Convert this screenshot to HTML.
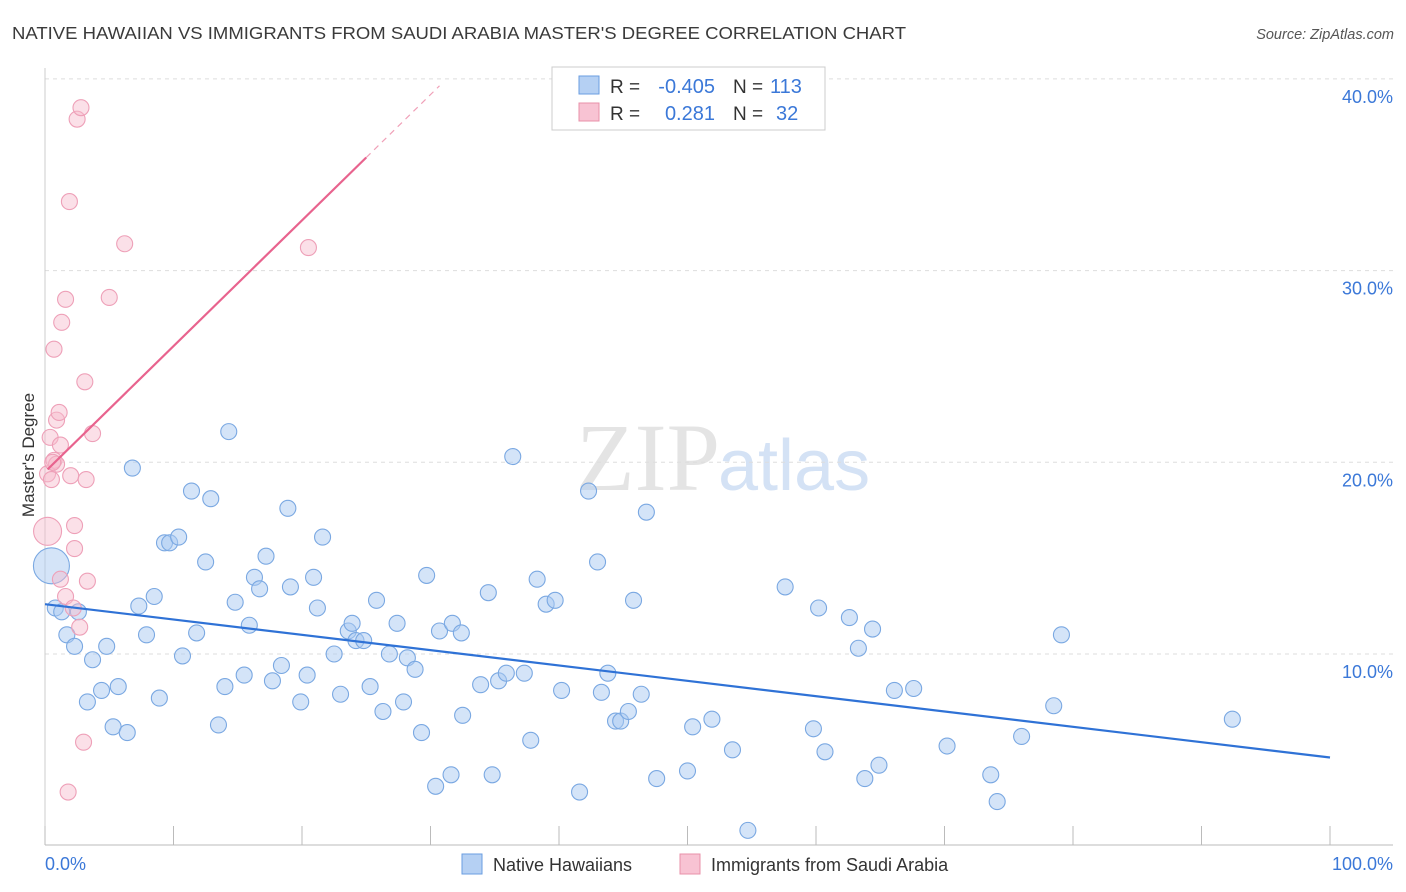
<!DOCTYPE html>
<html><head><meta charset="utf-8"><style>
body{margin:0;background:#fff;font-family:"Liberation Sans",sans-serif;}
svg{display:block}
</style></head><body>
<svg id="chart" width="1406" height="892">
<text x="12" y="39" font-size="17.5" fill="#3a3a3a" textLength="894" lengthAdjust="spacingAndGlyphs">NATIVE HAWAIIAN VS IMMIGRANTS FROM SAUDI ARABIA MASTER'S DEGREE CORRELATION CHART</text>
<text x="1394" y="39" font-size="14.5" fill="#555" font-style="italic" text-anchor="end">Source: ZipAtlas.com</text>
<text x="720" y="490" font-size="96" fill="#e4e4e4" text-anchor="end" font-family="Liberation Serif">ZIP</text>
<text x="718" y="490" font-size="72" fill="#d4e2f5">atlas</text>
<text transform="translate(34,455) rotate(-90)" font-size="17" fill="#333" text-anchor="middle">Master's Degree</text>
<g id="grid"></g><g id="marks"></g>
<g>
<rect x="552" y="67" width="273" height="63" fill="#fff" stroke="#ccc"/>
<rect x="579" y="76" width="20" height="18" fill="#b5d0f3" stroke="#6a9ee0"/>
<rect x="579" y="103" width="20" height="18" fill="#f8c3d3" stroke="#e890aa"/>
<text x="610" y="93" font-size="19" fill="#333">R =</text>
<text x="715" y="93" font-size="20" fill="#3b78d8" text-anchor="end">-0.405</text>
<text x="733" y="93" font-size="19" fill="#333">N =</text>
<text x="770" y="93" font-size="20" fill="#3b78d8">113</text>
<text x="610" y="120" font-size="19" fill="#333">R =</text>
<text x="715" y="120" font-size="20" fill="#3b78d8" text-anchor="end">0.281</text>
<text x="733" y="120" font-size="19" fill="#333">N =</text>
<text x="776" y="120" font-size="20" fill="#3b78d8">32</text>
</g>
<g>
<rect x="462" y="854" width="20" height="20" fill="#b5d0f3" stroke="#6a9ee0"/>
<text x="493" y="871" font-size="18" fill="#333">Native Hawaiians</text>
<rect x="680" y="854" width="20" height="20" fill="#f8c3d3" stroke="#e890aa"/>
<text x="711" y="871" font-size="18" fill="#333">Immigrants from Saudi Arabia</text>
</g>
<text x="45" y="870" font-size="18" fill="#3b78d8">0.0%</text>
<text x="1393" y="870" font-size="18" fill="#3b78d8" text-anchor="end">100.0%</text>
</svg>
<script>
const blueX=[0.5,0.8,1.3,2.6,1.7,2.3,3.7,4.8,4.4,3.3,5.7,5.3,6.4,6.8,7.3,7.9,8.5,8.9,9.3,9.7,10.4,10.7,11.4,11.8,12.5,12.9,13.5,14.0,14.3,14.8,15.5,15.9,16.3,16.7,17.2,17.7,18.4,18.9,19.1,19.9,20.4,20.9,21.2,21.6,22.5,23.0,23.6,23.9,24.2,24.8,25.3,25.8,26.3,26.8,27.4,27.9,28.2,28.8,29.3,29.7,30.4,30.7,31.6,31.7,32.4,32.5,33.9,34.5,34.8,35.3,35.9,36.4,37.3,37.8,38.3,39.0,39.7,40.2,41.6,42.3,43.0,43.3,43.8,44.4,44.8,45.4,45.8,46.4,46.8,47.6,50.0,50.4,51.9,53.5,54.7,57.6,59.8,60.2,60.7,62.6,63.3,63.8,64.4,64.9,66.1,67.6,70.2,73.6,74.1,76.0,78.5,79.1,92.4];
const blueY=[14.6,12.4,12.2,12.2,11.0,10.4,9.7,10.4,8.1,7.5,8.3,6.2,5.9,19.7,12.5,11.0,13.0,7.7,15.8,15.8,16.1,9.9,18.5,11.1,14.8,18.1,6.3,8.3,21.6,12.7,8.9,11.5,14.0,13.4,15.1,8.6,9.4,17.6,13.5,7.5,8.9,14.0,12.4,16.1,10.0,7.9,11.2,11.6,10.7,10.7,8.3,12.8,7.0,10.0,11.6,7.5,9.8,9.2,5.9,14.1,3.1,11.2,3.7,11.6,11.1,6.8,8.4,13.2,3.7,8.6,9.0,20.3,9.0,5.5,13.9,12.6,12.8,8.1,2.8,18.5,14.8,8.0,9.0,6.5,6.5,7.0,12.8,7.9,17.4,3.5,3.9,6.2,6.6,5.0,0.8,13.5,6.1,12.4,4.9,11.9,10.3,3.5,11.3,4.2,8.1,8.2,5.2,3.7,2.3,5.7,7.3,11.0,6.6];
const pinkX=[0.2,0.2,0.5,0.7,0.4,0.9,1.1,1.2,0.9,0.7,1.3,1.6,1.9,2.5,2.8,2.0,2.3,2.3,1.2,3.3,1.6,2.2,2.7,3.2,3.1,3.7,5.0,6.2,3.0,1.8,20.5,0.6];
const pinkY=[16.4,19.4,19.1,20.1,21.3,22.2,22.6,20.9,19.9,25.9,27.3,28.5,33.6,37.9,38.5,19.3,16.7,15.5,13.9,13.8,13.0,12.4,11.4,19.1,24.2,21.5,28.6,31.4,5.4,2.8,31.2,20.0];
const yTicks=[10,20,30,40];
const yTickLabels=["10.0%","20.0%","30.0%","40.0%"];
const xTicks=[0,10,20,30,40,50,60,70,80,90,100];
const blueFit=[12.6,4.6];
const pinkFit=[19.5,0.656];
const sx=v=>45+v*12.85, sy=v=>845.7-v*19.17;
const NS="http://www.w3.org/2000/svg";
const grid=document.getElementById('grid'), marks=document.getElementById('marks');
function mk(p,tag,a){const e=document.createElementNS(NS,tag);for(const k in a)e.setAttribute(k,a[k]);p.appendChild(e);return e;}
yTicks.forEach((t,i)=>{
 const l=mk(grid,'line',{x1:45,x2:1393,y1:sy(t),y2:sy(t),stroke:'#ddd','stroke-dasharray':'4,4'});
 
 
 const tx=mk(grid,'text',{x:1393,y:sy(t)+24,'font-size':18,fill:'#3b78d8','text-anchor':'end'});
 tx.textContent=yTickLabels[i];
 
 
});
const ax=mk(grid,'line',{x1:45,x2:1393,y1:845,y2:845,stroke:'#bbb'});


const ay=mk(grid,'line',{x1:45,x2:45,y1:68,y2:845,stroke:'#ccc'});


xTicks.forEach(t=>{
 const l=mk(grid,'line',{x1:sx(t),x2:sx(t),y1:826,y2:845,stroke:'#bbb'});
 
 
});
blueX.forEach((x,i)=>{
 const c=mk(marks,'circle',{cx:sx(x),cy:sy(blueY[i]),r:i==0?18:8,fill:'rgba(170,202,242,0.5)',stroke:'#7aa8e2','stroke-width':1.1});
 
 
});
pinkX.forEach((x,i)=>{
 const c=mk(marks,'circle',{cx:sx(x),cy:sy(pinkY[i]),r:i==0?14:8,fill:'rgba(246,186,205,0.45)',stroke:'#eea0b8','stroke-width':1.1});
 
 
});
const bl=mk(marks,'line',{x1:sx(0),y1:sy(blueFit[0]),x2:sx(100),y2:sy(blueFit[1]),stroke:'#2f72d6','stroke-width':2.2});


const pl=mk(marks,'line',{x1:sx(0.2),y1:sy(pinkFit[0]+0.2*pinkFit[1]),x2:sx(25),y2:sy(pinkFit[0]+25*pinkFit[1]),stroke:'#e8638e','stroke-width':2.2});


const pd=mk(marks,'line',{x1:sx(25),y1:sy(pinkFit[0]+25*pinkFit[1]),x2:sx(30.7),y2:sy(pinkFit[0]+30.7*pinkFit[1]),stroke:'#f0a0b8','stroke-width':1.2,'stroke-dasharray':'6,5'});


</script>
</body></html>
